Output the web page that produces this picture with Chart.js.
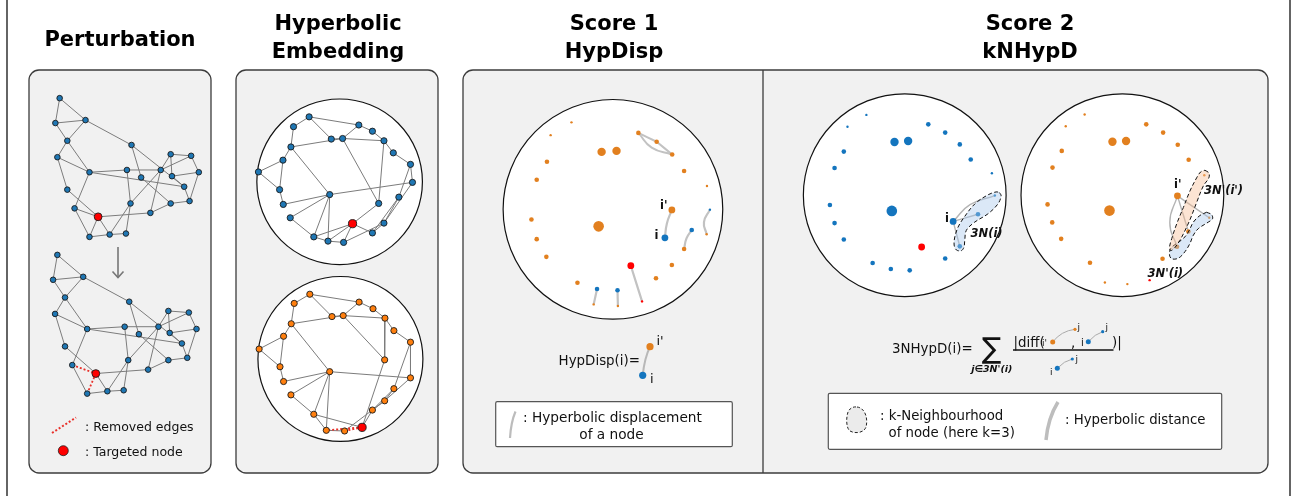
<!DOCTYPE html>
<html>
<head>
<meta charset="utf-8">
<script src="https://cdn.jsdelivr.net/npm/chart.js@4.4.1/dist/chart.umd.min.js"></script>
<style>
  html, body { margin: 0; padding: 0; background: #fff; }
  #wrap { position: relative; width: 1303px; height: 496px; overflow: hidden; }
  #wrap svg, #wrap canvas { position: absolute; left: 0; top: 0; }
  #fg { pointer-events: none; }
  text { font-family: 'DejaVu Sans', Verdana, sans-serif; fill: #111; }
  .title { font-weight: bold; font-size: 21px; text-anchor: middle; fill: #000; }
  .lab { font-weight: bold; font-size: 11.5px; }
  .hood { font-weight: bold; font-style: italic; font-size: 11.5px; }
</style>
</head>
<body>
<div id="wrap">
  <svg id="bg" width="1303" height="496">
    <line x1="7" y1="0" x2="7" y2="496" stroke="#111" stroke-width="1.3"/>
    <line x1="1290" y1="0" x2="1290" y2="496" stroke="#111" stroke-width="1.3"/>
    <rect x="29" y="70" width="182" height="403" rx="10" fill="#f1f1f1" stroke="#3c3c3c" stroke-width="1.3"/>
    <rect x="236" y="70" width="202" height="403" rx="10" fill="#f1f1f1" stroke="#3c3c3c" stroke-width="1.3"/>
    <rect x="463" y="70" width="805" height="403" rx="10" fill="#f1f1f1" stroke="#3c3c3c" stroke-width="1.3"/>
    <line x1="763" y1="70" x2="763" y2="473" stroke="#3c3c3c" stroke-width="1.3"/>
    <rect x="495.7" y="401.7" width="236.6" height="45" rx="1.5" fill="#fff" stroke="#555" stroke-width="1.2"/>
    <rect x="828.3" y="393.3" width="393.4" height="56" rx="1.5" fill="#fff" stroke="#555" stroke-width="1.2"/>
  </svg>
  <canvas id="c" width="1303" height="496"></canvas>
  <svg id="fg" width="1303" height="496">
    <text class="title" x="120" y="46">Perturbation</text>
    <text class="title" x="338" y="30">Hyperbolic</text>
    <text class="title" x="338" y="58">Embedding</text>
    <text class="title" x="614" y="30">Score 1</text>
    <text class="title" x="614" y="58">HypDisp</text>
    <text class="title" x="1030" y="30">Score 2</text>
    <text class="title" x="1030" y="58">kNHypD</text>

    <!-- perturbation arrow + legend -->
    <line x1="118" y1="247" x2="118" y2="277.5" stroke="#777" stroke-width="1.6"/>
    <polyline points="112.5,271.5 118,277.5 123.5,271.5" fill="none" stroke="#777" stroke-width="1.6"/>
    <line x1="52" y1="433" x2="76" y2="417.5" stroke="#e8302a" stroke-width="2" stroke-dasharray="2,2"/>
    <text x="85" y="430.5" font-size="12.5">: Removed edges</text>
    <circle cx="63.3" cy="450.7" r="5" fill="#ff0000" stroke="#222" stroke-width="0.8"/>
    <text x="85" y="456" font-size="12.5">: Targeted node</text>

    <!-- labels inside disks -->
    <text class="lab" x="660" y="208.5">i'</text>
    <text class="lab" x="654.5" y="238.5">i</text>
    <text class="lab" x="945" y="222">i</text>
    <text class="hood" x="970.5" y="236.5">3N(i)</text>
    <text class="lab" x="1174" y="188">i'</text>
    <text class="hood" x="1204" y="194">3N'(i')</text>
    <text class="hood" x="1147.5" y="276.5">3N'(i)</text>

    <!-- HypDisp formula -->
    <text x="640" y="364.5" font-size="13.4" text-anchor="end">HypDisp(i)=</text>
    <path d="M642.7,375.3 Q644.5,358 650,346.7" fill="none" stroke="#b8b8b8" stroke-width="2"/>
    <circle cx="650" cy="346.7" r="3.6" fill="#e2801f"/>
    <circle cx="642.7" cy="375.3" r="3.6" fill="#1475be"/>
    <text x="656.5" y="345" font-size="13">i'</text>
    <text x="650" y="383" font-size="13">i</text>

    <!-- legend 1 -->
    <path d="M510,438 Q511,422 515.5,411.5" fill="none" stroke="#bcbcbc" stroke-width="2.2"/>
    <text x="523" y="422" font-size="13.7">: Hyperbolic displacement</text>
    <text x="611.5" y="438.5" font-size="13.7" text-anchor="middle">of a node</text>

    <!-- kNHypD formula -->
    <text x="972.7" y="353" font-size="13.4" text-anchor="end">3NHypD(i)=</text>
    <text x="991.5" y="358" font-size="29" text-anchor="middle">∑</text>
    <text x="991.8" y="371.5" font-size="9.5" font-weight="bold" font-style="italic" text-anchor="middle">j∈3N'(i)</text>
    <line x1="1013" y1="350" x2="1113.5" y2="350" stroke="#111" stroke-width="1.3"/>
    <text x="1013.5" y="346.5" font-size="13.4">|diff(</text>
    <text x="1042" y="346" font-size="9">i'</text>
    <path d="M1052.7,342 Q1061,331 1075,329.3" fill="none" stroke="#aaa" stroke-width="1"/>
    <circle cx="1052.7" cy="342" r="2.5" fill="#e2801f"/>
    <circle cx="1075" cy="329.3" r="1.6" fill="#e2801f"/>
    <text x="1077.5" y="330" font-size="9">j</text>
    <text x="1071" y="347" font-size="13.4">,</text>
    <text x="1081" y="346" font-size="10">i</text>
    <path d="M1088.3,341.7 Q1095,334 1102.7,331.7" fill="none" stroke="#aaa" stroke-width="1"/>
    <circle cx="1088.3" cy="341.7" r="2.5" fill="#1475be"/>
    <circle cx="1102.7" cy="331.7" r="1.6" fill="#1475be"/>
    <text x="1105.5" y="330" font-size="9">j</text>
    <text x="1112" y="346.5" font-size="13.4">)|</text>
    <text x="1050" y="375" font-size="9">i</text>
    <path d="M1057.3,368.3 Q1064,361 1072.3,359" fill="none" stroke="#aaa" stroke-width="1"/>
    <circle cx="1057.3" cy="368.3" r="2.5" fill="#1475be"/>
    <circle cx="1072.3" cy="359" r="1.6" fill="#1475be"/>
    <text x="1075.5" y="362" font-size="9">j</text>

    <!-- legend 2 -->
    <path d="M857,407 C866,408 868,420 866,427 C864,433 855,434 850,431 C846,428 846,418 848,412 C850,408 853,406.5 857,407 Z" fill="#ebebeb" stroke="#222" stroke-width="1" stroke-dasharray="3,2"/>
    <text x="880" y="419.5" font-size="13.3">: k-Neighbourhood</text>
    <text x="888.5" y="437" font-size="13.3">of node (here k=3)</text>
    <path d="M1046,440 Q1048,418 1058,402" fill="none" stroke="#bdbdbd" stroke-width="3.5"/>
    <text x="1065" y="424" font-size="13.3">: Hyperbolic distance</text>
  </svg>
</div>
<script>
// ---- Perturbation: network drawn before and after removing edges ----
const pertNodes = [
    [56, 95.7], [51.7, 121], [82, 118], [63.7, 139], [53.7, 155.7], [86, 171], [63.7, 188.7], [71, 207.7],
    [94.7, 216.3], [86, 236.7], [106.3, 234.3], [122.7, 233.3], [127.3, 202.7], [123.7, 168.7], [128.3, 143.3],
    [138, 176.3], [147.3, 212.3], [157.7, 168.7], [167.7, 152.7], [188.3, 154.3], [169, 175], [196, 171],
    [181.3, 185.7], [167.7, 202.7], [186.7, 200.3]
];
const pertEdges = [
    [0, 1], [0, 2], [1, 2], [1, 3], [2, 3], [2, 14], [3, 4], [3, 5], [4, 5], [4, 6], [5, 7], [5, 13], [5, 22],
    [6, 8], [7, 8], [7, 9], [8, 9], [8, 10], [8, 16], [9, 10], [10, 11], [10, 12], [12, 13], [11, 12], [13, 17],
    [14, 15], [14, 22], [15, 23], [16, 23], [16, 17], [12, 17], [17, 18], [17, 19], [18, 19], [18, 20],
    [19, 21], [20, 21], [20, 22], [21, 24], [22, 24], [23, 24]
];
const pertRemoved = [[7, 8], [8, 9]];
const pertTarget = 8;
const pertShift = [-2.3, 159.3]; // perturbed copy sits below the original

// ---- Hyperbolic embedding (before: blue, after: orange) ----
const embBefore = [
    [307, 114.7], [291.3, 124.7], [357, 123], [370.7, 129.3], [329.3, 137.3], [340.7, 136.7], [382.3, 139],
    [288.7, 145.3], [391.7, 151.3], [280.7, 158.7], [409, 163], [256, 170.7], [411, 181.3], [277.3, 188.7],
    [327.7, 193.7], [397.3, 196.3], [281, 203.7], [377, 202.7], [288, 217.3], [382.3, 222.7], [350.7, 223.3],
    [370.7, 232.7], [311.7, 236.7], [326, 241], [341.7, 242.3]
];
const embAfter = [
    [307.7, 295], [292, 304.3], [357.3, 303], [371.3, 309.7], [330, 317.7], [341.3, 316.7], [383.3, 319.3],
    [289, 325], [392.3, 332], [281.3, 337.7], [409, 343.7], [256.7, 350.7], [409, 380], [277.7, 368.7],
    [327.7, 373.7], [392.3, 391], [281.3, 383.7], [383, 361.7], [288.7, 397.3], [383, 403.3], [360.3, 430.3],
    [370.7, 412.7], [311.7, 417], [324.3, 433.3], [342.7, 434]
];
const embEdges = [
    [0, 1], [0, 2], [0, 4], [1, 7], [2, 3], [2, 5], [3, 6], [4, 5], [5, 6], [7, 5], [5, 17], [6, 8], [6, 17],
    [8, 10], [10, 15], [10, 12], [12, 14], [12, 19], [15, 19], [15, 21], [7, 9], [9, 11], [9, 13], [11, 13],
    [13, 16], [16, 14], [7, 14], [14, 18], [14, 22], [14, 23], [18, 22], [22, 20], [22, 23], [23, 24],
    [20, 23], [20, 24], [20, 17], [20, 21], [21, 19], [24, 19]
];
const embRemoved = [[20, 23], [20, 24]];
const embTarget = 20;

// ---- Score 1: HypDisp disk, [x, y, degree class] ----
const hdStill = [
    [571, 120.3, 0], [550, 133.3, 0], [601.3, 150.3, 3], [616.3, 149.3, 3], [638.3, 131, 1], [656.7, 140, 1],
    [672.3, 153, 1], [546.3, 160.3, 1], [536, 178.7, 1], [684.3, 169.7, 1], [707.3, 185, 0], [530.7, 219, 1],
    [598.3, 226, 4], [536, 239, 1], [545.7, 257, 1], [672, 265.3, 1], [656, 278.7, 1], [577, 283.3, 1]
];
const hdFrom = [[665, 237.7, 2], [710.3, 209, 0], [692, 229.7, 1], [596.7, 289.7, 1], [617.3, 291, 1], [630.7, 266, 2]];
const hdTo = [[672, 209.3, 2], [707, 234, 0], [684.3, 249, 1], [593.3, 305.3, 0], [617.7, 307, 0], [642, 302.3, 0]];
const hdBend = [[667, 223], [704.3, 221.7], [686.7, 238.3], null, null, null];
const hdTarget = 5;
const hdTrail = [
    [[638.3, 131], [656.7, 140]],
    [[656.7, 140], [672.3, 153]],
    [[638.3, 131], [651.7, 146], [672.3, 153]]
];

// ---- Score 2: kNHypD disks ----
const knBefore = [
    [867.7, 112.7, 0], [848.7, 124.7, 0], [930, 122.3, 1], [947, 130.7, 1], [961.7, 142.7, 1], [972.7, 158, 1],
    [994, 172, 0], [896, 140.3, 3], [909.7, 139.3, 3], [845, 150, 1], [835.7, 166.7, 1], [831, 204.3, 1],
    [893.3, 210.3, 4], [835.7, 222.7, 1], [845, 239.3, 1], [874, 263.3, 1], [892.3, 269.3, 1], [911.3, 270.7, 1],
    [947, 258.7, 1], [955, 221, 2], [980, 213.7, 1], [997, 194.7, 0], [961.7, 246.3, 1], [923.3, 247, 2]
];
const knAfter = [
    [1087.3, 112.3, 0], [1068.3, 124.3, 0], [1149.3, 122.3, 1], [1166.3, 130.7, 1], [1181, 143, 1],
    [1192, 158.3, 1], [1115.3, 140, 3], [1129, 139.3, 3], [1064.3, 149.3, 1], [1055, 166.3, 1], [1050, 203.7, 1],
    [1112.3, 210, 4], [1054.7, 222, 1], [1063.7, 238.7, 1], [1092.7, 263, 1], [1107.7, 283, 0], [1130.3, 284.7, 0],
    [1165.7, 259, 1], [1180.7, 195, 2], [1207.7, 174, 0], [1212.7, 217.3, 0], [1191.7, 231.3, 1],
    [1180.3, 246.7, 1], [1152.7, 280.7, 0]
];
const knTarget = 23;
const knNode = { before: 19, after: 18 };
const knNeighbours = [20, 21, 22];
const knBendBefore = [null, [972, 204], null];
const knBendAfter = [null, null, [1173, 222]];
const hoodBefore = [
    [1001.7, 191.7], [1003.3, 195], [1000, 203.3], [990, 213.3], [976.7, 221.7], [968.3, 230], [966.7, 240],
    [966, 246.7], [963.3, 250.7], [958.3, 250], [956, 245], [956.7, 236.7], [960, 226.7], [965, 218.3],
    [976.7, 203.3], [990, 194], [998.3, 191], [1001.7, 191.7]
];
const hoodAfterSelf = [
    [1208.3, 169], [1212.3, 171.7], [1212.3, 176.7], [1206.7, 185], [1200, 201.7], [1195, 215], [1190, 226.7],
    [1183.3, 240], [1178.3, 247.3], [1174, 250.7], [1172.7, 247.3], [1175, 238.3], [1180, 223.3], [1186.7, 206.7],
    [1193.3, 190], [1200, 176.7], [1204, 170.7], [1208.3, 169]
];
const hoodAfterOrig = [
    [1210, 211.7], [1215, 214], [1216, 218.3], [1211.7, 221.7], [1201.7, 228.3], [1196.7, 235], [1193.3, 243.3],
    [1188.3, 251.7], [1181.7, 258.3], [1175, 259], [1172.7, 255], [1174, 248.3], [1180, 243.3], [1186.7, 238.3],
    [1191.7, 231.7], [1196.7, 221.7], [1203.3, 215], [1210, 211.7]
];

// Poincare disk boundaries
const diskCentre = [[337.7, 180.7], [338.5, 360.8], [612.7, 208.7], [906.3, 194.3], [1125.3, 194.3]];
const diskRadius = [83.3, 83, 110.5, 102, 102];

const theme = {
    pertBlue: '#1f77b4',
    embOrange: '#ff7f0e',
    orange: '#e2801f',
    blue: '#1475be',
    red: '#ff0000',
    edge: '#7c7c7c',
    link: '#c2c2c2',
    nodeLine: '#1b1b1b'
};
const degRadius = [1.2, 2.3, 3.4, 4.2, 5.3];

const toPt = (p, d = [0, 0]) => ({ x: p[0] + d[0], y: p[1] + d[1], deg: p[2] });

function edgeData(nodes, edges, shift) {
    const out = [];
    edges.forEach(([a, b]) => {
        const p = toPt(nodes[a], shift), q = toPt(nodes[b], shift);
        out.push(p, q, { x: q.x, y: null });
    });
    return out;
}
const without = (edges, gone) => edges.filter(e => !gone.some(g => g[0] === e[0] && g[1] === e[1]));

function edgeSet(data, color, width, dash, order = 50) {
    return {
        data, showLine: true, borderColor: color, borderWidth: width, borderDash: dash || [],
        pointRadius: 0, fill: false, tension: 0, order
    };
}
function linkSet(points, color, width, order = 40) {
    return {
        data: points.map(p => toPt(p)), showLine: true, borderColor: color, borderWidth: width,
        pointRadius: 0, fill: false, tension: 0.5, order
    };
}
function nodeSet(data, fill, radius, border, order = 10) {
    return {
        data, showLine: false, pointRadius: radius, pointHoverRadius: radius,
        pointBackgroundColor: fill, pointBorderColor: border || 'rgba(0,0,0,0)',
        pointBorderWidth: border ? 0.9 : 0, order
    };
}
function hoodSet(points, fill) {
    return {
        data: points.map(p => toPt(p)), showLine: true, fill: 'shape', backgroundColor: fill,
        borderColor: '#111', borderWidth: 1, borderDash: [4, 2.5], pointRadius: 0, tension: 0.35, order: 5
    };
}
const byDeg = c => degRadius[c.raw.deg];

const datasets = [];

// disks
datasets.push({
    data: diskCentre.map(p => toPt(p)), showLine: false,
    pointRadius: c => c.chart.scales.x.getPixelForValue(diskRadius[c.dataIndex]) - c.chart.scales.x.getPixelForValue(0),
    pointBackgroundColor: '#fff', pointBorderColor: '#111', pointBorderWidth: 1.2, order: 100
});

// perturbation
datasets.push(edgeSet(edgeData(pertNodes, pertEdges), theme.edge, 1));
datasets.push(edgeSet(edgeData(pertNodes, without(pertEdges, pertRemoved), pertShift), theme.edge, 1));
datasets.push(edgeSet(edgeData(pertNodes, pertRemoved, pertShift), '#e8302a', 1.8, [2, 2], 45));
[[0, 0], pertShift].forEach(shift => {
    datasets.push(nodeSet(pertNodes.map(p => toPt(p, shift)),
        c => c.dataIndex === pertTarget ? theme.red : theme.pertBlue,
        c => c.dataIndex === pertTarget ? 3.9 : 2.8, theme.nodeLine));
});

// embedding
datasets.push(edgeSet(edgeData(embBefore, embEdges), theme.edge, 1));
datasets.push(edgeSet(edgeData(embAfter, without(embEdges, embRemoved)), theme.edge, 1));
datasets.push(edgeSet(edgeData(embAfter, embRemoved), '#e8302a', 1.8, [2, 2], 45));
datasets.push(nodeSet(embBefore.map(p => toPt(p)),
    c => c.dataIndex === embTarget ? theme.red : theme.pertBlue,
    c => c.dataIndex === embTarget ? 4.1 : 3.1, theme.nodeLine));
datasets.push(nodeSet(embAfter.map(p => toPt(p)),
    c => c.dataIndex === embTarget ? theme.red : theme.embOrange,
    c => c.dataIndex === embTarget ? 4.1 : 3.1, theme.nodeLine));

// HypDisp: displacement of each moved node
hdFrom.forEach((p, k) => {
    const path = hdBend[k] ? [p, hdBend[k], hdTo[k]] : [p, hdTo[k]];
    datasets.push(linkSet(path, theme.link, 2.2));
});
hdTrail.forEach(path => datasets.push(linkSet(path, theme.link, 2)));
datasets.push(nodeSet(hdStill.map(p => toPt(p)), theme.orange, byDeg));
datasets.push(nodeSet(hdFrom.map(p => toPt(p)), c => c.dataIndex === hdTarget ? theme.red : theme.blue, byDeg));
datasets.push(nodeSet(hdTo.map(p => toPt(p)), c => c.dataIndex === hdTarget ? theme.red : theme.orange, byDeg));

// kNHypD: distances from the node to its neighbourhood
knNeighbours.forEach((j, k) => {
    const a = knBefore[knNode.before], b = knBefore[j];
    datasets.push(linkSet(knBendBefore[k] ? [a, knBendBefore[k], b] : [a, b], '#b4b4b4', 1.4));
    const a2 = knAfter[knNode.after], b2 = knAfter[j];
    datasets.push(linkSet(knBendAfter[k] ? [a2, knBendAfter[k], b2] : [a2, b2], '#b4b4b4', 1.4));
});
datasets.push(nodeSet(knBefore.map(p => toPt(p)), c => c.dataIndex === knTarget ? theme.red : theme.blue, byDeg));
datasets.push(nodeSet(knAfter.map(p => toPt(p)), c => c.dataIndex === knTarget ? theme.red : theme.orange, byDeg));
datasets.push(hoodSet(hoodBefore, 'rgba(170,200,235,0.42)'));
datasets.push(hoodSet(hoodAfterSelf, 'rgba(248,190,150,0.42)'));
datasets.push(hoodSet(hoodAfterOrig, 'rgba(170,200,235,0.42)'));

new Chart(document.getElementById('c'), {
    type: 'line',
    data: { datasets },
    options: {
        responsive: false,
        animation: false,
        devicePixelRatio: 1,
        events: [],
        layout: { padding: 0 },
        plugins: { legend: { display: false }, tooltip: { enabled: false } },
        scales: {
            x: { type: 'linear', min: 0, max: 1303, display: false },
            y: { type: 'linear', min: 0, max: 496, reverse: true, display: false }
        }
    }
});
</script>
</body>
</html>
